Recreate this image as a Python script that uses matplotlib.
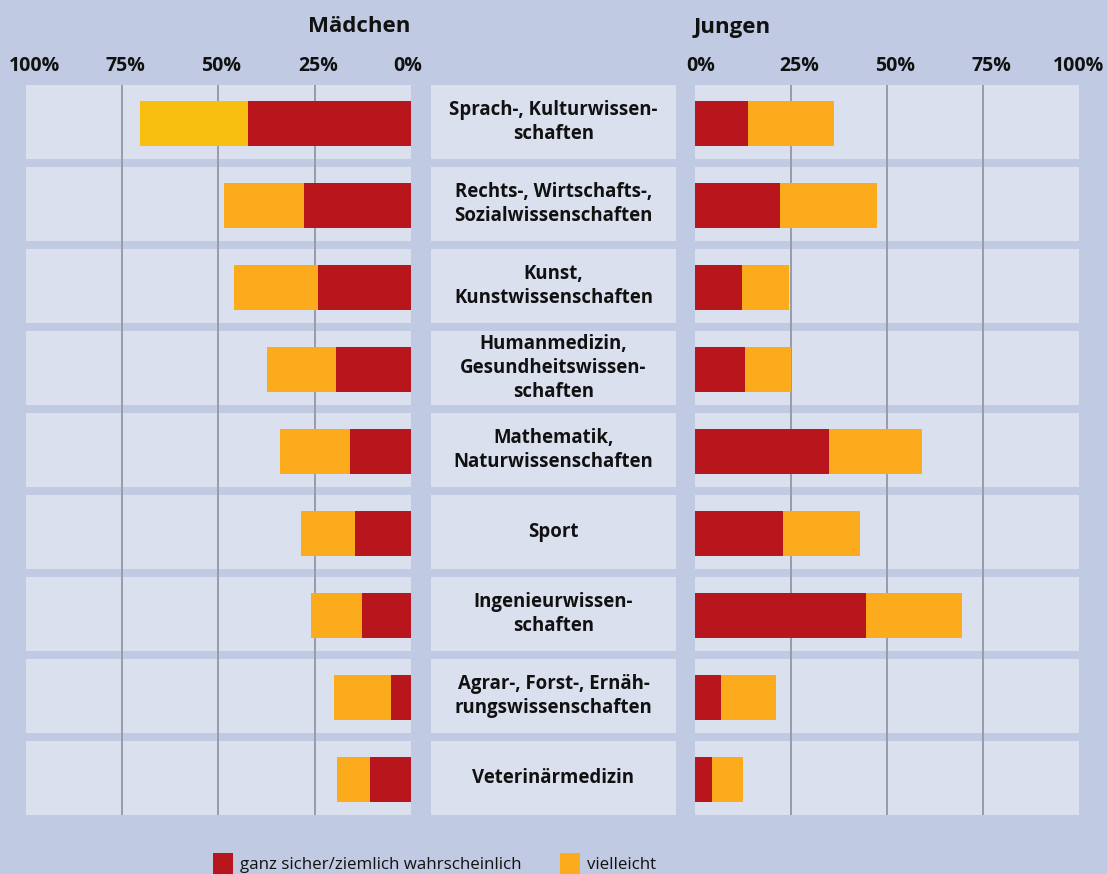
import matplotlib
matplotlib.use("Agg")
import matplotlib.pyplot as plt
from matplotlib.patches import Rectangle
import matplotlib.transforms as mtransforms

# data (percent)
categories = [
    "Sprach-, Kulturwissen-\nschaften",
    "Rechts-, Wirtschafts-,\nSozialwissenschaften",
    "Kunst,\nKunstwissenschaften",
    "Humanmedizin,\nGesundheitswissen-\nschaften",
    "Mathematik,\nNaturwissenschaften",
    "Sport",
    "Ingenieurwissen-\nschaften",
    "Agrar-, Forst-, Ernäh-\nrungswissenschaften",
    "Veterinärmedizin",
]
girls_sure = [42.3, 27.8, 24.2, 19.5, 15.8, 14.5, 12.7, 5.2, 10.6]
girls_maybe = [28.1, 20.8, 21.8, 17.9, 18.2, 14.1, 13.3, 14.8, 8.6]
boys_sure = [13.8, 22.1, 12.2, 13.0, 34.9, 22.9, 44.5, 6.8, 4.4]
boys_maybe = [22.4, 25.3, 12.3, 12.0, 24.2, 20.1, 25.0, 14.3, 8.1]
ticks = [0, 25, 50, 75, 100]
tick_labels = ["0%", "25%", "50%", "75%", "100%"]
legend_labels = ["ganz sicher/ziemlich wahrscheinlich", "vielleicht"]

BG = "#c0cae2"
PANEL = "#dae0ee"
RED = "#b9151c"
ORANGE = "#fcab1c"
YELLOW = "#f9bf10"
GRID = "#999ca6"
TXT = "#111111"
girls_maybe_colors = [YELLOW] + [ORANGE] * (len(categories) - 1)

plt.rcParams["font.family"] = ["Open Sans", "DejaVu Sans"]

W, H = 1107, 874
fig = plt.figure(figsize=(W / 100, H / 100), dpi=100, facecolor=BG)

TOP, BOT = 85, 815
def px_axes(x0, x1):
    ax = fig.add_axes([x0 / W, 1 - BOT / H, (x1 - x0) / W, (BOT - TOP) / H])
    ax.set_facecolor(BG)
    for s in ax.spines.values():
        s.set_visible(False)
    ax.set_xticks([]); ax.set_yticks([])
    ax.set_ylim(len(categories) - 0.55, -0.45)
    return ax

n = len(categories)
rows = list(range(n))
bar_rows = [r + 0.02 for r in rows]   # bars sit a hair below band centre
band_h = 74 / 82
bar_h = 45 / 82

axL = px_axes(26, 411)
axC = px_axes(431, 676)
axR = px_axes(695, 1079)
axL.set_xlim(100, 0)
axR.set_xlim(0, 100)
axC.set_xlim(0, 1)

for ax in (axL, axR):
    ax.barh(rows, [100] * n, height=band_h, color=PANEL, zorder=1)
    for t in ticks[1:-1]:
        ax.plot([t, t], [-0.45, n - 0.55], color=GRID, lw=1.4, zorder=2)

axL.barh(bar_rows, girls_sure, height=bar_h, color=RED, zorder=3)
axL.barh(bar_rows, girls_maybe, left=girls_sure, height=bar_h, color=girls_maybe_colors, zorder=3)
axR.barh(bar_rows, boys_sure, height=bar_h, color=RED, zorder=3)
axR.barh(bar_rows, boys_maybe, left=boys_sure, height=bar_h, color=ORANGE, zorder=3)

axC.barh(rows, [1] * n, height=band_h, color=PANEL, zorder=1)
for i, c in enumerate(categories):
    axC.text(0.5, i, c, ha="center", va="center", fontsize=13.4, fontweight="bold",
             color=TXT, linespacing=1.25, zorder=3)

# tick labels above each panel
tick_y = 1 - 66 / H
for ax, dx in ((axL, 3), (axR, 8)):
    tr = mtransforms.blended_transform_factory(ax.transData, fig.transFigure)
    for t, lab in zip(ticks, tick_labels):
        off = dx
        if t == 100 and ax is axL:
            off = 9
        if t == 0 and ax is axL:
            off = -3
        if t == 0 and ax is axR:
            off = 6
        if t == 100 and ax is axR:
            off = -1
        ax.text(t, tick_y, lab, transform=mtransforms.offset_copy(tr, fig=fig, x=off, y=0, units="dots"),
                ha="center", va="center", fontsize=14, fontweight="bold", color=TXT)

fig.text(410 / W, 1 - 27 / H, "Mädchen", ha="right", va="center", fontsize=16, fontweight="bold", color=TXT)
fig.text(694 / W, 1 - 27 / H, "Jungen", ha="left", va="center", fontsize=16, fontweight="bold", color=TXT)

# legend
for (x0, col, lab) in ((213, RED, legend_labels[0]), (560, ORANGE, legend_labels[1])):
    fig.patches.append(Rectangle((x0 / W, 1 - 874 / H), 20 / W, 21 / H, transform=fig.transFigure,
                                 facecolor=col, edgecolor="none"))
    fig.text((x0 + 27) / W, 1 - 865 / H, lab, ha="left", va="center", fontsize=12.2, color=TXT)

fig.savefig("out.png", dpi=100, facecolor=BG)
